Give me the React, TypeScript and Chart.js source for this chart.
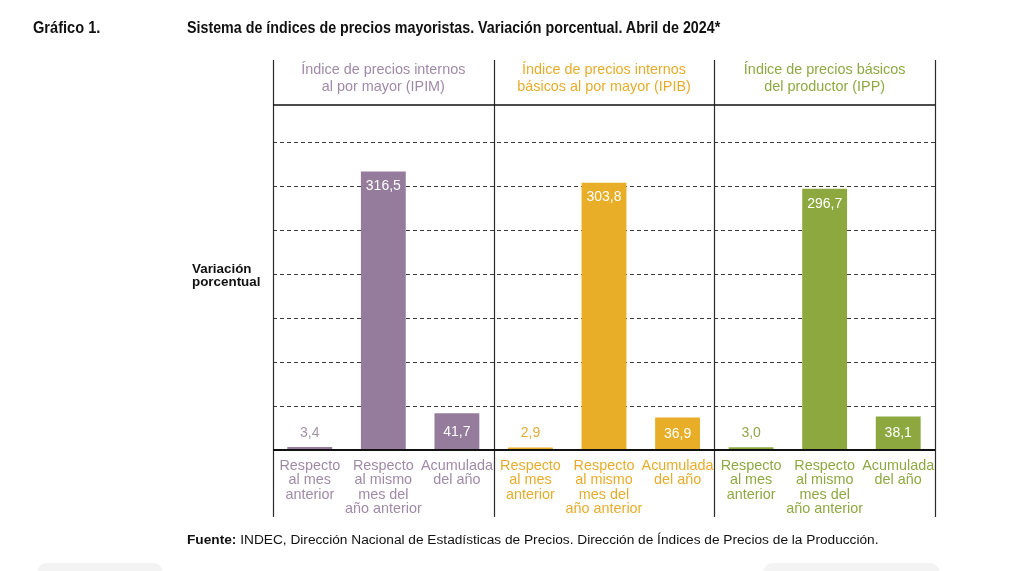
import React, { useEffect, useRef } from "react";
import { Chart, registerables } from "chart.js";

Chart.register(...registerables);

const groupTitles: string[][] = [
  ["Índice de precios internos", "al por mayor (IPIM)"],
  ["Índice de precios internos", "básicos al por mayor (IPIB)"],
  ["Índice de precios básicos", "del productor (IPP)"],
];
const categoryLabels: string[][] = [
  ["Respecto", "al mes", "anterior"],
  ["Respecto", "al mismo", "mes del", "año anterior"],
  ["Acumulada", "del año"],
];
const ipimValues = [3.4, 316.5, 41.7];
const ipibValues = [2.9, 303.8, 36.9];
const ippValues = [3.0, 296.7, 38.1];
const gridTicks = [50, 100, 150, 200, 250, 300, 350];
const yAxisTitle = ["Variación", "porcentual"];
const titleLabel = "Gráfico 1.";
const titleText = "Sistema de índices de precios mayoristas. Variación porcentual. Abril de 2024*";
const sourceBold = "Fuente:";
const sourceText = " INDEC, Dirección Nacional de Estadísticas de Precios. Dirección de Índices de Precios de la Producción.";

const barColors = ["#957c9c", "#e9ae27", "#8ca83e"];
const textColors = ["#a08aa8", "#e6ad2c", "#8ea943"];
const smallLabelColors = ["#a394a8", "#e3ad3a", "#8fa64c"];

const FONT = '"Liberation Sans", Arial, Helvetica, sans-serif';

export default function App() {
  const ref = useRef<HTMLCanvasElement | null>(null);
  const t1 = useRef<HTMLSpanElement | null>(null);
  const t2 = useRef<HTMLSpanElement | null>(null);

  useEffect(() => {
    const fit = (el: HTMLSpanElement | null, target: number) => {
      if (!el) return;
      el.style.transform = "none";
      const wdt = el.offsetWidth;
      if (wdt > 0) el.style.transform = `scaleX(${target / wdt})`;
    };
    fit(t1.current, 67);
    fit(t2.current, 533);

    const canvas = ref.current;
    if (!canvas) return;
    const groups = [ipimValues, ipibValues, ippValues];
    const values: number[] = [];
    const colors: string[] = [];
    const labels: string[][] = [];
    groups.forEach((g, gi) => {
      g.forEach((v, i) => {
        values.push(v);
        colors.push(barColors[gi]);
        labels.push(categoryLabels[i]);
      });
    });

    const decor = {
      id: "decor",
      beforeDatasetsDraw(chart: any) {
        const { ctx, chartArea } = chart;
        const y = chart.scales.y;
        ctx.save();
        ctx.strokeStyle = "#3a3a3a";
        ctx.lineWidth = 1;
        ctx.setLineDash([4, 3]);
        gridTicks.forEach((t) => {
          const py = Math.round(y.getPixelForValue(t)) + 0.5;
          ctx.beginPath();
          ctx.moveTo(chartArea.left, py);
          ctx.lineTo(chartArea.right, py);
          ctx.stroke();
        });
        ctx.restore();
      },
      afterDatasetsDraw(chart: any) {
        const { ctx, chartArea } = chart;
        const x = chart.scales.x;
        const y = chart.scales.y;
        const meta = chart.getDatasetMeta(0);
        const w = (chartArea.right - chartArea.left) / 3;
        ctx.save();
        ctx.strokeStyle = "#2a2a2a";
        ctx.lineWidth = 1.2;
        for (let k = 0; k <= 3; k++) {
          const px = Math.round(chartArea.left + k * w) + 0.5;
          ctx.beginPath();
          ctx.moveTo(px, 60);
          ctx.lineTo(px, 517);
          ctx.stroke();
        }
        ctx.strokeStyle = "#111";
        ctx.lineWidth = 1.6;
        ctx.beginPath();
        ctx.moveTo(chartArea.left, chartArea.top);
        ctx.lineTo(chartArea.right, chartArea.top);
        ctx.stroke();
        const by = y.getPixelForValue(0);
        ctx.lineWidth = 2;
        ctx.beginPath();
        ctx.moveTo(chartArea.left, by);
        ctx.lineTo(chartArea.right, by);
        ctx.stroke();

        ctx.textAlign = "center";
        ctx.textBaseline = "middle";
        ctx.font = `14.4px ${FONT}`;
        groupTitles.forEach((lines, gi) => {
          const cx = chartArea.left + (gi + 0.5) * w;
          ctx.fillStyle = textColors[gi];
          lines.forEach((ln, li) => ctx.fillText(ln, cx, 70 + li * 17.5));
        });
        labels.forEach((lines, i) => {
          const gi = Math.floor(i / 3);
          const cx = x.getPixelForValue(i);
          ctx.fillStyle = textColors[gi];
          lines.forEach((ln, li) => ctx.fillText(ln, cx, 466 + li * 14.4));
        });
        ctx.font = `14px ${FONT}`;
        values.forEach((v, i) => {
          const gi = Math.floor(i / 3);
          const el = meta.data[i];
          const txt = v.toFixed(1).replace(".", ",");
          let ty: number;
          if (v > 200) {
            ctx.fillStyle = "#ffffff";
            ty = el.y + 15;
          } else if (v > 20) {
            ctx.fillStyle = "#ffffff";
            ty = (el.y + by) / 2;
          } else {
            ctx.fillStyle = smallLabelColors[gi];
            ty = by - 17;
          }
          ctx.fillText(txt, el.x, ty);
        });
        ctx.textAlign = "left";
        ctx.fillStyle = "#111";
        ctx.font = `bold 13.4px ${FONT}`;
        yAxisTitle.forEach((ln, li) => ctx.fillText(ln, 192, 269.5 + li * 12.5));
        ctx.restore();
      },
    };

    const chart = new Chart(canvas, {
      type: "bar",
      data: {
        labels: labels,
        datasets: [
          {
            data: values,
            backgroundColor: colors,
            borderWidth: 0,
            barPercentage: 0.61,
            categoryPercentage: 1,
          },
        ],
      },
      options: {
        animation: false,
        responsive: false,
        layout: { padding: { left: 273, right: 93, top: 105, bottom: 121 } },
        plugins: { legend: { display: false }, tooltip: { enabled: false }, title: { display: false } },
        scales: {
          x: { display: false, offset: true },
          y: { display: false, min: 0, max: 392 },
        },
      },
      plugins: [decor],
    });
    return () => chart.destroy();
  }, []);

  const titleFont = `bold 17px ${FONT}`;
  return (
    <div style={{ position: "absolute", left: 0, top: 0, width: 1028, height: 571, background: "#fff", overflow: "hidden" }}>
      <canvas ref={ref} width={1028} height={571} style={{ position: "absolute", left: 0, top: 0, width: 1028, height: 571 }} />
      <div style={{ position: "absolute", left: 33, top: 18, font: titleFont, color: "#111", whiteSpace: "nowrap" }}>
        <span ref={t1} style={{ display: "inline-block", transformOrigin: "left center" }}>{titleLabel}</span>
      </div>
      <div style={{ position: "absolute", left: 187, top: 18, font: titleFont, color: "#111", whiteSpace: "nowrap" }}>
        <span ref={t2} style={{ display: "inline-block", transformOrigin: "left center" }}>{titleText}</span>
      </div>
      <div style={{ position: "absolute", left: 187, top: 532, font: `13.7px ${FONT}`, color: "#111", whiteSpace: "nowrap" }}>
        <b>{sourceBold}</b>
        {sourceText}
      </div>
      <div style={{ position: "absolute", left: 37, top: 563, width: 126, height: 20, borderRadius: 10, background: "#f3f3f3" }} />
      <div style={{ position: "absolute", left: 763, top: 563, width: 177, height: 20, borderRadius: 10, background: "#f3f3f3" }} />
    </div>
  );
}
